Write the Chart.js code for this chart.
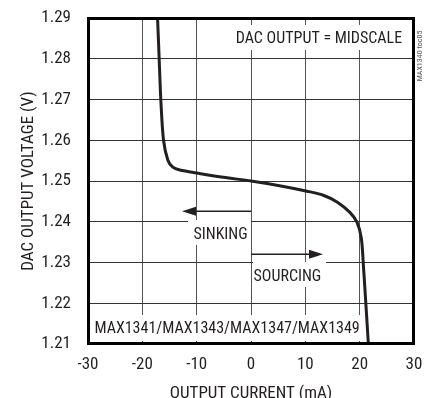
<!DOCTYPE html>
<html>
<head>
<meta charset="utf-8">
<script src="https://cdn.jsdelivr.net/npm/chart.js@4/dist/chart.umd.min.js"></script>
<style>
  html, body { margin: 0; padding: 0; background: #fff; }
  #wrap { width: 424px; height: 398px; }
</style>
</head>
<body>
<div id="wrap"><canvas id="myChart"></canvas></div>
<script>
// output current (mA) and DAC output voltage (V)
var currentMA = [-17.2, -16.9, -16.6, -16.1, -15.3, -14.4, -13.1, -9.7, -5.1, 0, 5, 10.3, 13.3, 15.9, 18.2, 19.5, 20.3, 20.7, 21.1, 21.6];
var voltageV  = [1.29, 1.28, 1.27, 1.26, 1.2551, 1.2534, 1.2527, 1.2519, 1.2509, 1.2500, 1.2489, 1.2475, 1.2465, 1.2448, 1.2423, 1.2399, 1.2360, 1.2290, 1.2207, 1.21];

var xTicks = [-30, -20, -10, 0, 10, 20, 30];
var yTicks = [1.21, 1.22, 1.23, 1.24, 1.25, 1.26, 1.27, 1.28, 1.29];

var FONT = "'Roboto Condensed', 'DejaVu Sans Condensed', sans-serif";
var INK = '#231f20';

window.addEventListener('load', function() {
    var canvas = document.getElementById('myChart');
    var context = canvas.getContext('2d');

    var points = [];
    for (var i = 0; i < currentMA.length; i++) {
        points.push({ x: currentMA[i], y: voltageV[i] });
    }

    // labels with white boxes (box in pixels), text anchored in data units
    var labels = [
        { text: 'DAC OUTPUT = MIDSCALE', x: 12.5, y: 1.2848, box: [228, 25, 410, 50] },
        { text: 'SINKING', x: -5.6, y: 1.2367, box: [188, 220, 251, 245] },
        { text: 'SOURCING', x: 6.7, y: 1.2265, box: [253, 262, 326, 287] },
        { text: 'MAX1341/MAX1343/MAX1347/MAX1349', x: -4.4, y: 1.2136, box: [91, 315, 364, 341] }
    ];
    var arrows = [
        { from: [0, 1.2426], to: [-12.7, 1.2426] },
        { from: [0, 1.2320], to: [13.25, 1.2320] }
    ];

    var notes = {
        id: 'notes',
        beforeDatasetsDraw: function(chart) {
            var ctx = chart.ctx;
            var xs = chart.scales.x, ys = chart.scales.y;
            ctx.save();
            labels.forEach(function(l) {
                ctx.fillStyle = '#fff';
                ctx.fillRect(l.box[0], l.box[1], l.box[2] - l.box[0], l.box[3] - l.box[1]);
                ctx.fillStyle = INK;
                ctx.font = '16px ' + FONT;
                ctx.textAlign = 'center';
                ctx.textBaseline = 'middle';
                ctx.fillText(l.text, xs.getPixelForValue(l.x), ys.getPixelForValue(l.y));
            });
            arrows.forEach(function(a) {
                var x0 = xs.getPixelForValue(a.from[0]), y0 = ys.getPixelForValue(a.from[1]);
                var x1 = xs.getPixelForValue(a.to[0]), y1 = ys.getPixelForValue(a.to[1]);
                var dir = x1 > x0 ? 1 : -1;
                ctx.strokeStyle = INK;
                ctx.lineWidth = 1.5;
                ctx.beginPath();
                ctx.moveTo(x0, y0);
                ctx.lineTo(x1 - dir * 8, y1);
                ctx.stroke();
                ctx.fillStyle = INK;
                ctx.beginPath();
                ctx.moveTo(x1, y1);
                ctx.lineTo(x1 - dir * 14, y1 - 4.5);
                ctx.lineTo(x1 - dir * 14, y1 + 4.5);
                ctx.closePath();
                ctx.fill();
            });
            ctx.restore();
        },
        afterDraw: function(chart) {
            var ctx = chart.ctx;
            var a = chart.chartArea;
            ctx.save();
            ctx.strokeStyle = '#000';
            ctx.lineWidth = 3;
            ctx.strokeRect(a.left + 0.5, a.top + 0.5, a.right - a.left - 1, a.bottom - a.top - 1);
            // figure id on the right edge
            ctx.translate(420, 56);
            ctx.rotate(-Math.PI / 2);
            ctx.fillStyle = '#555';
            ctx.font = '8px ' + FONT;
            ctx.textAlign = 'center';
            ctx.textBaseline = 'middle';
            ctx.fillText('MAX1340 toc05', 0, 0);
            ctx.restore();
        }
    };

    new Chart(context, {
        type: 'scatter',
        data: {
            datasets: [{
                data: points,
                showLine: true,
                borderColor: INK,
                borderWidth: 3,
                pointRadius: 0,
                tension: 0.3
            }]
        },
        options: {
            responsive: true,
            maintainAspectRatio: false,
            animation: false,
            layout: { padding: { top: 18, right: 10, left: 0, bottom: 0 } },
            plugins: { legend: { display: false }, tooltip: { enabled: false } },
            scales: {
                x: {
                    type: 'linear', min: -30, max: 30,
                    afterBuildTicks: function(s) { s.ticks = xTicks.map(function(v) { return { value: v }; }); },
                    afterFit: function(s) { s.height = 54; s.paddingLeft = 0; s.paddingRight = 0; },
                    grid: { color: '#555', lineWidth: 1, drawTicks: false },
                    border: { display: false },
                    ticks: { color: INK, padding: 11, font: { family: FONT, size: 17 }, maxRotation: 0 },
                    title: { display: true, text: 'OUTPUT CURRENT (mA)', color: INK, font: { family: FONT, size: 17, lineHeight: 1 }, padding: { top: 0, bottom: -4 } }
                },
                y: {
                    type: 'linear', min: 1.21, max: 1.29,
                    afterBuildTicks: function(s) { s.ticks = yTicks.map(function(v) { return { value: v }; }); },
                    afterFit: function(s) { s.width = 88; s.paddingTop = 0; s.paddingBottom = 0; },
                    grid: { color: '#333', lineWidth: 1, drawTicks: false },
                    border: { display: false },
                    ticks: { color: INK, padding: 17, font: { family: FONT, size: 17 }, callback: function(v) { return v.toFixed(2); } },
                    title: { display: true, text: 'DAC OUTPUT VOLTAGE (V)', color: INK, font: { family: FONT, size: 17, lineHeight: 1 }, padding: { top: 20, bottom: 0 } }
                }
            }
        },
        plugins: [notes]
    });
});
</script>
</body>
</html>
